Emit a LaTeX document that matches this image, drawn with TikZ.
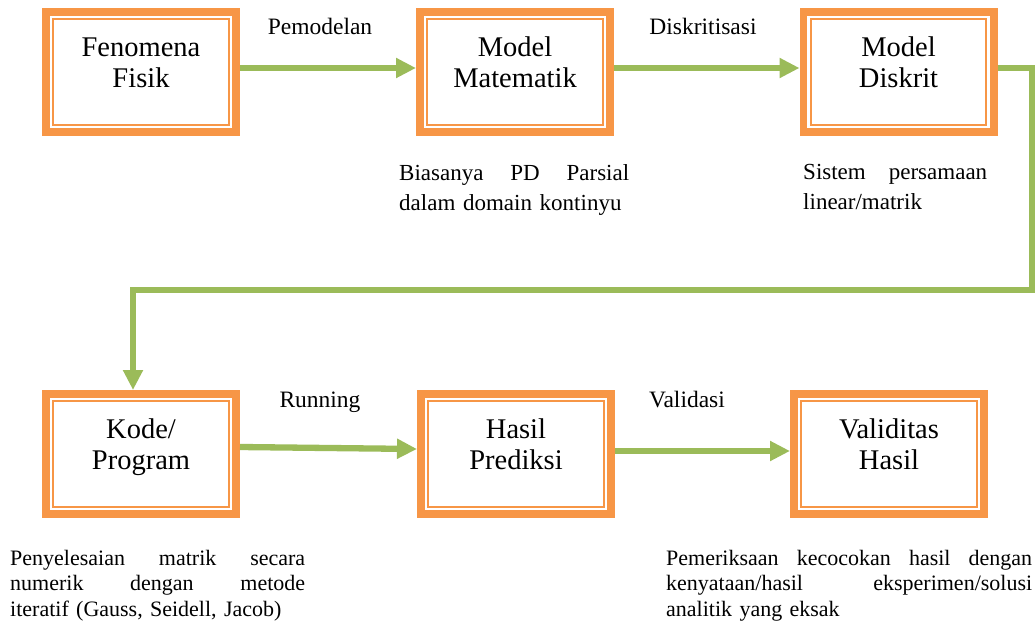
\documentclass[tikz,border=0pt]{standalone}
\usepackage{fontspec}
\setmainfont{Liberation Serif}
\usetikzlibrary{arrows.meta}
\definecolor{boxorange}{HTML}{F79646}
\definecolor{flowgreen}{HTML}{9BBB59}
\newcommand\twoline[2]{\raisebox{6pt}[\height][\depth]{\begin{tabular}{@{}c@{}}#1\\#2\end{tabular}}}
\newcommand\fullline[2]{\makebox[#1][s]{\spaceskip=0pt\xspaceskip=0pt #2}}

\begin{document}
\begin{tikzpicture}[x=1pt,y=-1pt,>={Triangle[length=20pt,width=19pt]},
    box/.style={draw=boxorange,line width=7.7pt,fill=white,inner sep=0pt,
        minimum width=190.3pt,minimum height=120.3pt,font=\fontsize{28.5}{31}\selectfont,
        path picture={\draw[boxorange,line width=2.2pt]
            ([shift={(7.3pt,-7.3pt)}]path picture bounding box.north west) rectangle
            ([shift={(-7.3pt,7.3pt)}]path picture bounding box.south east);}},
    flow/.style={draw=flowgreen,line width=6.3pt},
    lbl/.style={anchor=base,inner sep=0pt,font=\fontsize{23.5}{27}\selectfont},
    note/.style={anchor=north west,inner sep=0pt,align=left,font=\fontsize{22}{#1}\selectfont}]
        \useasboundingbox (0,0) rectangle (1035,623);

        \node[box] (fisik) at (141,72) {\twoline{Fenomena}{Fisik}};
        \node[box] (matematik) at (515,72) {\twoline{Model}{Matematik}};
        \node[box] (diskrit) at (898.5,72) {\twoline{Model}{Diskrit}};
        \node[box] (program) at (141,454) {\twoline{Kode/}{Program}};
        \node[box] (prediksi) at (516,454) {\twoline{Hasil}{Prediksi}};
        \node[box] (validitas) at (889,454) {\twoline{Validitas}{Hasil}};
        \coordinate (turn) at (1032,290);

        \draw[flow,->] ([yshift=4pt]fisik.east) -- ([yshift=4pt]matematik.west);
        \draw[flow,->] ([yshift=4pt]matematik.east) -- ([yshift=4pt]diskrit.west);
        \draw[flow,->] ([yshift=4pt]diskrit.east) -| (turn) -| ([xshift=-8pt]program.north);
        \draw[flow,->] ([yshift=7pt]program.east) -- ([yshift=5pt]prediksi.west);
        \draw[flow,->] ([yshift=3pt]prediksi.east) -- ([yshift=3pt]validitas.west);

        \node[lbl] (pemodelan) at (320,35) {Pemodelan};
        \node[lbl] (diskritisasi) at (703,35) {Diskritisasi};
        \node[lbl] (running) at (320,407) {Running};
        \node[lbl] (validasi) at (687,407) {Validasi};

        \node[note=30,font=\fontsize{23}{30}\selectfont,text width=230pt] (pdnote) at (399,164.5)
            {\noindent\fullline{230pt}{Biasanya PD Parsial}\\dalam domain kontinyu};
        \node[note=30,font=\fontsize{23}{30}\selectfont,text width=184pt] (matriknote) at (803,164.5)
            {\noindent\fullline{184pt}{Sistem persamaan}\\linear/matrik};
        \node[note=25.5,text width=295pt] (iteratifnote) at (10,550)
            {\noindent\fullline{295pt}{Penyelesaian matrik secara}\\\fullline{295pt}{numerik dengan metode}\\iteratif (Gauss, Seidell, Jacob)};
        \node[note=25.5,text width=366pt] (eksaknote) at (666,550)
            {\noindent\fullline{366pt}{Pemeriksaan kecocokan hasil dengan}\\\fullline{366pt}{kenyataan/hasil eksperimen/solusi}\\analitik yang eksak};
    \end{tikzpicture}
\end{document}
